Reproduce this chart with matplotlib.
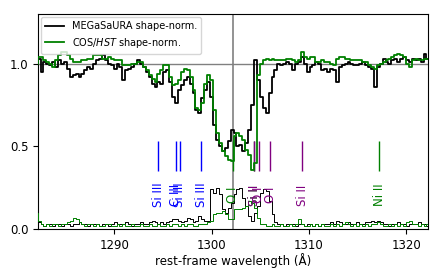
import numpy as np
import matplotlib
matplotlib.use("Agg")
import matplotlib.pyplot as plt

# wavelength grid (rest-frame, Angstrom)
wave_start = 1282.0
wave_step = 0.3
n_pix = 135
wave = wave_start + wave_step * np.arange(n_pix)

megasaura_flux = [
    1.00, 1.03, 0.95, 1.01, 1.00, 0.99, 1.01, 0.98, 1.02, 1.00,
    1.01, 0.97, 0.92, 0.93, 0.94, 0.92, 0.94, 0.96, 0.98, 0.97,
    1.00, 1.02, 1.03, 1.05, 1.02, 1.00, 0.99, 0.97, 1.00, 0.98,
    0.90, 0.96, 0.97, 0.98, 1.00, 1.02, 1.00, 0.98, 0.95, 0.92,
    0.88, 0.86, 0.89, 0.88, 0.95, 0.96, 0.89, 0.80, 0.76, 0.84,
    0.87, 0.90, 0.92, 0.88, 0.82, 0.72, 0.70, 0.79, 0.84, 0.89,
    0.80, 0.63, 0.54, 0.50, 0.47, 0.49, 0.53, 0.60, 0.58, 0.50,
    0.51, 0.47, 0.52, 0.60, 0.75, 1.02, 0.90, 0.80, 0.73, 0.70,
    0.82, 0.92, 0.96, 1.00, 0.99, 1.00, 1.01, 1.00, 0.96, 1.00,
    1.01, 1.04, 1.00, 0.95, 0.98, 0.99, 1.01, 1.00, 0.96, 0.97,
    0.95, 0.97, 0.96, 0.89, 0.98, 0.99, 1.00, 1.01, 1.00, 0.99,
    0.99, 1.00, 1.01, 0.99, 0.98, 0.97, 0.86, 0.98, 1.00, 1.03,
    1.01, 1.00, 1.02, 1.03, 1.01, 1.03, 1.04, 1.02, 1.01, 1.03,
    1.02, 1.03, 1.01, 1.06, 1.03,
]

cos_flux = [
    1.00, 1.04, 1.04, 1.02, 1.01, 1.00, 0.98, 1.02, 1.05, 1.07,
    1.07, 1.05, 1.03, 1.01, 1.01, 1.01, 1.02, 1.02, 1.03, 1.03,
    1.05, 1.05, 1.05, 1.03, 1.03, 1.04, 1.03, 1.02, 1.02, 1.02,
    0.99, 0.99, 0.99, 1.00, 1.00, 1.01, 1.01, 0.98, 0.96, 0.93,
    0.91, 0.89, 0.94, 0.96, 0.99, 0.99, 0.92, 0.87, 0.88, 0.90,
    0.95, 0.97, 0.96, 0.92, 0.84, 0.73, 0.72, 0.76, 0.88, 0.93,
    0.90, 0.72, 0.58, 0.52, 0.47, 0.44, 0.42, 0.41, 0.56, 0.58,
    0.56, 0.54, 0.48, 0.45, 0.36, 0.40, 0.93, 1.00, 1.02, 1.03,
    1.02, 1.03, 1.02, 1.02, 1.02, 1.02, 1.03, 1.03, 1.02, 1.01,
    1.02, 1.07, 1.04, 1.03, 1.04, 1.04, 1.01, 1.01, 1.02, 1.01,
    1.01, 1.00, 0.99, 1.03, 1.04, 1.04, 1.03, 1.03, 1.02, 1.02,
    1.02, 1.02, 1.01, 1.01, 0.99, 0.98, 0.97, 0.99, 1.00, 1.01,
    1.02, 1.03, 1.04, 1.05, 1.06, 1.05, 1.04, 1.00, 0.98, 1.02,
    1.03, 1.02, 1.02, 1.03, 1.03,
]

megasaura_err = [
    0.03, 0.04, 0.03, 0.02, 0.03, 0.03, 0.02, 0.03, 0.03, 0.02,
    0.03, 0.03, 0.02, 0.03, 0.03, 0.04, 0.03, 0.03, 0.02, 0.03,
    0.03, 0.03, 0.02, 0.03, 0.03, 0.02, 0.03, 0.04, 0.03, 0.03,
    0.03, 0.04, 0.03, 0.02, 0.03, 0.03, 0.04, 0.03, 0.03, 0.04,
    0.05, 0.04, 0.03, 0.04, 0.03, 0.04, 0.05, 0.06, 0.06, 0.05,
    0.04, 0.05, 0.07, 0.06, 0.04, 0.05, 0.08, 0.06, 0.05, 0.05,
    0.24, 0.22, 0.25, 0.21, 0.12, 0.10, 0.13, 0.16, 0.21, 0.24,
    0.25, 0.19, 0.14, 0.08, 0.05, 0.10, 0.14, 0.22, 0.24, 0.23,
    0.17, 0.09, 0.04, 0.03, 0.03, 0.02, 0.03, 0.03, 0.03, 0.02,
    0.03, 0.03, 0.02, 0.03, 0.03, 0.02, 0.03, 0.02, 0.03, 0.03,
    0.03, 0.04, 0.03, 0.05, 0.04, 0.03, 0.03, 0.04, 0.03, 0.03,
    0.04, 0.03, 0.03, 0.04, 0.04, 0.05, 0.04, 0.05, 0.04, 0.03,
    0.03, 0.02, 0.03, 0.03, 0.04, 0.03, 0.03, 0.02, 0.03, 0.03,
    0.03, 0.04, 0.03, 0.03, 0.02,
]

cos_err = [
    0.10, 0.05, 0.03, 0.02, 0.03, 0.02, 0.03, 0.03, 0.02, 0.03,
    0.03, 0.04, 0.05, 0.07, 0.06, 0.04, 0.03, 0.02, 0.03, 0.03,
    0.02, 0.03, 0.02, 0.02, 0.03, 0.03, 0.02, 0.02, 0.03, 0.02,
    0.03, 0.02, 0.02, 0.03, 0.02, 0.02, 0.03, 0.02, 0.02, 0.03,
    0.02, 0.02, 0.03, 0.02, 0.02, 0.03, 0.02, 0.03, 0.03, 0.02,
    0.03, 0.02, 0.03, 0.03, 0.02, 0.02, 0.03, 0.03, 0.03, 0.04,
    0.05, 0.09, 0.10, 0.10, 0.11, 0.09, 0.06, 0.06, 0.12, 0.12,
    0.12, 0.13, 0.14, 0.17, 0.16, 0.13, 0.07, 0.03, 0.03, 0.02,
    0.02, 0.03, 0.02, 0.02, 0.03, 0.02, 0.02, 0.03, 0.02, 0.03,
    0.06, 0.03, 0.02, 0.02, 0.03, 0.02, 0.03, 0.02, 0.03, 0.02,
    0.02, 0.03, 0.02, 0.03, 0.02, 0.03, 0.04, 0.03, 0.02, 0.03,
    0.02, 0.03, 0.02, 0.03, 0.02, 0.03, 0.03, 0.04, 0.03, 0.02,
    0.02, 0.03, 0.02, 0.03, 0.02, 0.03, 0.02, 0.04, 0.05, 0.03,
    0.03, 0.02, 0.03, 0.02, 0.03,
]

# line identifications
line_waves = [1294.54, 1296.33, 1296.73, 1298.93,
              1302.17, 1304.37, 1317.22,
              1304.37, 1304.86, 1306.03, 1309.28]
line_labels = ["Si III", "C III", "Si III", "Si III",
               "O I", "Si II", "Ni II",
               "Si II", "O I", "O I", "Si II"]
line_colors = ["blue", "blue", "blue", "blue",
               "green", "green", "green",
               "purple", "purple", "purple", "purple"]

systemic_line = 1302.17

fig = plt.figure(figsize=(4.43, 2.77), dpi=100)
ax = fig.add_axes([0.086, 0.173, 0.880, 0.776])

ax.axvline(systemic_line, color="gray", lw=1.2, zorder=1)
ax.axhline(1.0, color="gray", lw=1.0, zorder=1)

ax.plot(wave, megasaura_flux, color="black", lw=1.3, drawstyle="steps-mid",
        label="MEGaSaURA shape-norm.", zorder=3)
ax.plot(wave, cos_flux, color="green", lw=1.3, drawstyle="steps-mid",
        label="COS/$HST$ shape-norm.", zorder=3)
ax.plot(wave, megasaura_err, color="black", lw=0.7, drawstyle="steps-mid", zorder=3)
ax.plot(wave, cos_err, color="green", lw=0.7, drawstyle="steps-mid", zorder=3)

for w, lab, c in zip(line_waves, line_labels, line_colors):
    ax.vlines(w, 0.35, 0.53, color=c, lw=1.0, zorder=2)
    ax.text(w, 0.205, lab, color=c, rotation=90, ha="center", va="center",
            fontsize=8.5, zorder=4)

ax.set_xlim(1282.2, 1322.2)
ax.set_ylim(0, 1.3)
ax.set_yticks([0.0, 0.5, 1.0])
ax.set_xticks([1290, 1300, 1310, 1320])
ax.tick_params(labelsize=8.5)
ax.set_xlabel("rest-frame wavelength (Å)", fontsize=8.5, labelpad=1)
ax.legend(loc="upper left", fontsize=7, frameon=True, borderaxespad=0.3,
          handlelength=2.0)

fig.savefig("out.png", dpi=100)
